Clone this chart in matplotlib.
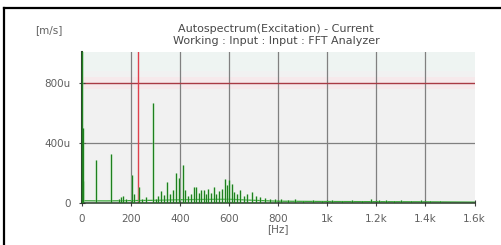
import matplotlib
matplotlib.use("Agg")
import matplotlib.pyplot as plt
from matplotlib.lines import Line2D

# spectrum peaks (Hz, micro m/s)
peak_freq = [0, 3, 6, 57, 118, 150, 160, 168, 178, 204, 212, 232, 245, 262, 290,
             300, 310, 322, 335, 347, 360, 372, 384, 395, 412, 420, 432, 445, 456,
             465, 475, 485, 497, 505, 515, 525, 538, 548, 560, 572, 584, 592, 600,
             610, 620, 632, 645, 660, 672, 693, 710, 725, 745, 765, 785, 810, 840,
             870, 900, 940, 980, 1020, 1060, 1100, 1140, 1180, 1210, 1240, 1270,
             1300, 1340, 1380, 1420, 1460, 1500, 1540, 1580]
peak_amp = [1100, 500, 150, 290, 330, 25, 40, 45, 30, 185, 60, 105, 30, 40, 665,
            30, 45, 80, 55, 140, 60, 90, 200, 170, 255, 90, 45, 60, 110,
            105, 70, 90, 85, 60, 95, 70, 110, 60, 80, 95, 160, 120, 155,
            130, 75, 60, 90, 50, 60, 75, 45, 40, 35, 30, 25, 25, 20,
            25, 15, 20, 15, 20, 15, 20, 15, 25, 20, 20, 15,
            20, 15, 20, 15, 12, 10, 10, 10]

# noise floor
floor_freq = [0, 100, 200, 300, 400, 500, 600, 700, 800, 1000, 1200, 1400, 1600]
floor_amp = [15, 14, 16, 18, 22, 24, 25, 18, 12, 10, 9, 8, 6]

xticks = [0, 200, 400, 600, 800, 1000, 1200, 1400, 1600]
xlabels = ["0", "200", "400", "600", "800\n[Hz]", "1k", "1.2k", "1.4k", "1.6k"]
yticks = [0, 400, 800]
ylabels = ["0", "400u", "800u"]

limit = 800      # red horizontal line
cursor = 229     # red vertical cursor

W, H = 501, 245
plt.rcParams['font.family'] = ['DejaVu Sans']
fig = plt.figure(figsize=(W / 100, H / 100), dpi=100)

ax = fig.add_axes([82 / W, 1 - 203 / H, (475 - 82) / W, (203 - 52) / H])
ax.set_facecolor('#f1f1f1')
ax.set_xlim(0, 1602)
ax.set_ylim(0, 1007)

# faint bands in the background
ax.axhspan(760, 840, color='#f6e9eb', zorder=0, lw=0)
ax.axhspan(880, 1007, color='#eef4f2', zorder=0, lw=0)

for x in xticks[1:-1]:
    ax.axvline(x, color='#808080', lw=0.9, zorder=1)
ax.axhline(400, color='#808080', lw=0.9, zorder=1)
ax.axhline(limit, color='#a83a44', lw=1.0, zorder=1)
ax.axvline(cursor, color='#e0404c', lw=1.0, zorder=1)

ax.plot(floor_freq, floor_amp, color='#3aa83a', lw=0.9, zorder=2)
ax.vlines(peak_freq, 0, peak_amp, color='#8fd88f', lw=2.2, alpha=0.35, zorder=2)
ax.vlines(peak_freq, 0, peak_amp, color='#1f7f1f', lw=0.8, zorder=3)

for s in ['top', 'right']:
    ax.spines[s].set_visible(False)
ax.spines['left'].set_color('#2a4a2a')
ax.spines['left'].set_linewidth(1.5)
ax.spines['bottom'].set_color('#2a3a2a')
ax.spines['bottom'].set_linewidth(1.1)

ax.set_xticks(xticks)
ax.set_xticklabels(xlabels, linespacing=0.95)
ax.set_yticks(yticks)
ax.set_yticklabels(ylabels)
ax.tick_params(axis='both', colors='#404040', labelcolor='#606060',
               labelsize=7.5, direction='inout', length=4, width=0.8)
ax.tick_params(axis='x', pad=6)
ax.tick_params(axis='y', pad=6)

fig.text(49 / W, 1 - 30 / H, "[m/s]", fontsize=7.5, color='#606060',
         ha='center', va='center')
fig.text(276 / W, 1 - 29 / H, "Autospectrum(Excitation) - Current",
         fontsize=8, color='#484848', ha='center', va='center')
fig.text(276 / W, 1 - 41 / H, "Working : Input : Input : FFT Analyzer",
         fontsize=8, color='#484848', ha='center', va='center')

# outer frame
fig.add_artist(Line2D([3.5 / W, 3.5 / W], [0, 1 - 8 / H], transform=fig.transFigure,
                      color='black', lw=1.6))
fig.add_artist(Line2D([3.5 / W, 1], [1 - 8 / H, 1 - 8 / H], transform=fig.transFigure,
                      color='black', lw=1.6))

fig.savefig("out.png", dpi=100)
